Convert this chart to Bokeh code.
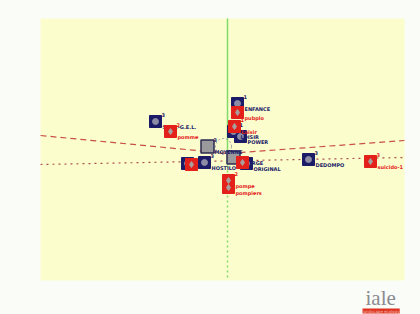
from bokeh.plotting import figure
from bokeh.models import ColumnDataSource, Label, BoxAnnotation
from bokeh.core.properties import value
from bokeh.embed import file_html
from bokeh.resources import INLINE

# ---- data (factorial plane coordinates, axis 1 horizontal, axis 2 vertical) ----
navy_labels = ["S.I.G.-G.E.L.", "ENFANCE", "LOISIR", "POWER", "HOSTILO", "", "DEDOMPO", "ORIGINAL"]
navy_sup    = ["3", "1", "1", "", "3", "", "3", ""]
navy_x      = [-0.72, 0.10, 0.06, 0.13, -0.23, -0.40, 0.81, 0.19]
navy_y      = [0.31, 0.49, 0.21, 0.16, -0.10, -0.11, -0.07, -0.11]

red_labels = ["pomme", "pubplo", "Loisir", "", "", "pompe", "pompiers", "suicido-1"]
red_sup    = ["2", "", "1", "", "", "2", "", "3"]
red_x      = [-0.57, 0.10, 0.07, -0.36, 0.15, 0.01, 0.01, 1.43]
red_y      = [0.21, 0.40, 0.26, -0.12, -0.10, -0.28, -0.35, -0.09]

grey_labels = ["MOYENNE", "SUPRGE"]
grey_sup    = ["3", ""]
grey_x      = [-0.20, 0.06]
grey_y      = [0.06, -0.05]

# map window (factor plane extent)
win_left, win_right, win_bottom, win_top = -1.87, 1.77, -1.28, 1.34

# projected axes (two half-axes each)
ax1_x = [-1.87, 0.0, 1.77]
ax1_y = [0.17, -0.01, 0.12]
ax3_x = [-1.87, 1.77]
ax3_y = [-0.12, -0.05]
ax2p_x = [0.0, 0.0]
ax2p_y = [1.34, 0.0]
ax2n_x = [0.0, 0.0]
ax2n_y = [-0.08, -1.28]

NAVY = "#1b1b68"
RED = "#e4201a"

p = figure(width=420, height=314, output_backend="svg", toolbar_location=None,
           x_range=(-2.27, 1.93), y_range=(-1.62, 1.52),
           x_axis_location=None, y_axis_location=None,
           min_border=0)
p.grid.visible = False
p.outline_line_color = None
p.background_fill_color = "#fafcf8"
p.border_fill_color = "#fafcf8"

p.add_layout(BoxAnnotation(left=win_left, right=win_right, bottom=win_bottom, top=win_top,
                           fill_color="#fcfdcc", fill_alpha=1, line_color=None, level="underlay"))

p.line(ax1_x, ax1_y, line_color="#c8504a", line_dash="6 4", line_width=1.2)
p.line(ax3_x, ax3_y, line_color="#a85050", line_dash="2 4", line_width=1.2)
p.line(ax2p_x, ax2p_y, line_color="#7fdc6a", line_width=1.5)
p.line(ax2n_x, ax2n_y, line_color="#7fdc6a", line_dash="2 3", line_width=1.5)

# confidence circle around mean point
p.scatter(x=[grey_x[0] + 0.16], y=[grey_y[0] + 0.0], marker="circle", size=16,
          fill_color=None, line_color="#8080a0", line_dash="2 2", line_width=0.8)

font = value("DejaVu Sans")

def group(xs, ys, labels, sups, fill, inner, inner_marker, inner_fill, txt_col, line_col=None, size=12):
    src = ColumnDataSource(dict(x=xs, y=ys, label=labels, sup=sups))
    p.scatter("x", "y", source=src, marker="square", size=size, fill_color=fill,
              line_color=line_col or fill, line_width=1.5 if line_col else 1)
    if inner:
        p.scatter("x", "y", source=src, marker=inner_marker, size=6, fill_color=inner_fill,
                  line_color=inner_fill)
    p.text("x", "y", text="sup", source=src, x_offset=6, y_offset=-5, text_font=font,
           text_font_size="5px", text_font_style="bold", text_color=txt_col,
           text_baseline="bottom")
    p.text("x", "y", text="label", source=src, x_offset=7, y_offset=5, text_font=font,
           text_font_size="5px", text_font_style="bold", text_color=txt_col,
           text_baseline="middle")

group(grey_x, grey_y, grey_labels, grey_sup, "#9a9a9c", False, None, None, NAVY, line_col="#2a2a50", size=13)
group(navy_x, navy_y, navy_labels, navy_sup, NAVY, True, "circle", "#8c8ca4", NAVY)
group(red_x, red_y, red_labels, red_sup, RED, True, "diamond", "#a8a0a0", RED)

p.add_layout(Label(x=1.38, y=-1.57, text="iale",
                   text_font="Liberation Serif", text_font_size="21px", text_color="#8a8a90"))
p.add_layout(Label(x=1.35, y=-1.61, text="landscape ecology",
                   text_font="DejaVu Sans", text_font_size="4px", text_color="#f0c0b0",
                   background_fill_color="#e03020"))

open("out.html", "w").write(file_html(p, INLINE))
